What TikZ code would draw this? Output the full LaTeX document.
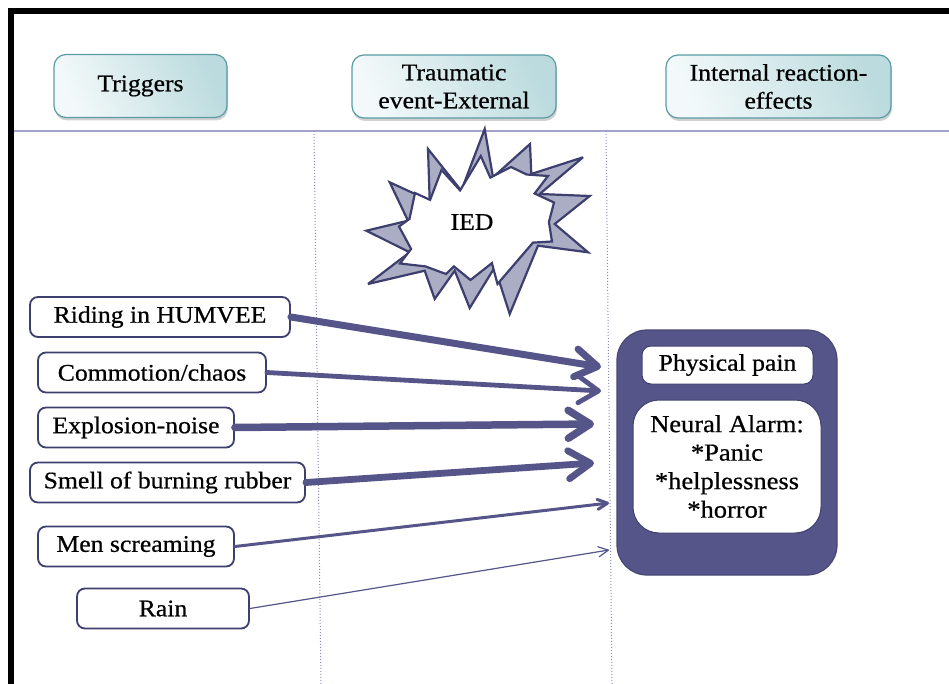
\documentclass[tikz,border=0pt]{standalone}
\usepackage{fontspec}
\setmainfont{Liberation Serif}[FakeStretch=1.08,FakeBold=0.6]
\usetikzlibrary{arrows.meta,shadows}

\definecolor{navy}{HTML}{3D3F6E}
\definecolor{plum}{HTML}{55558A}
\definecolor{hdrlight}{HTML}{F3F9FA}
\definecolor{hdrdark}{HTML}{BCDBDE}
\definecolor{hdredge}{HTML}{5A9CA3}
\definecolor{rulecol}{HTML}{A3A3CC}
\definecolor{guide}{HTML}{8A8AC0}
\definecolor{blastfill}{HTML}{AAADC4}

% outline of the explosion burst (back layer), relative to its centre
\def\blastback{(6.7,-95) -- (15,-46.7) -- (52,-80) -- (53.3,-50) -- (105,-66.7)
  -- (61.7,-30) -- (111.7,-28) -- (76.7,0) -- (110,28.3) -- (60,21.7)
  -- (31.7,90) -- (16.7,43.3) -- (-8.3,84) -- (-23.3,46.7) -- (-43.3,75)
  -- (-53.3,46.7) -- (-110,60) -- (-68.3,28.3) -- (-111.7,6.7) -- (-70,-3.3)
  -- (-88.3,-41.7) -- (-48.3,-23.3) -- (-50,-75) -- (-16.7,-33.3)}
% white front layer: same valleys, shorter spikes
\def\blastfront{(4.8,-66) -- (14.3,-44.4) -- (35,-55) -- (50.6,-47.5) -- (72,-46)
  -- (58.6,-28.5) -- (78,-19.5) -- (72.9,0) -- (76,19.5) -- (57,20.6)
  -- (21.5,62) -- (15.9,41.1) -- (-5.5,58) -- (-22.1,44.4) -- (-30,52)
  -- (-50.6,44.4) -- (-76,41.5) -- (-64.9,26.9) -- (-77,4.5) -- (-66.5,-3.1)
  -- (-61,-29) -- (-45.9,-22.1) -- (-34.5,-52) -- (-15.9,-31.6)}

\begin{document}
\begin{tikzpicture}[x=1pt,y=-1pt,
  txt/.style={font=\fontsize{23.8}{28}\selectfont},
  header/.style={txt, draw=hdredge, line width=1.2pt, rounded corners=12pt,
    left color=hdrlight, right color=hdrdark, shading angle=115,
    minimum height=63pt, inner sep=0pt, align=center,
    drop shadow={shadow xshift=1pt, shadow yshift=-3pt, opacity=0.3, fill=black!60}},
  trigger/.style={txt, draw=navy, line width=1.8pt, fill=white,
    rounded corners=8pt, minimum height=40pt, inner sep=0pt},
  inbox/.style={txt, draw=navy, line width=1pt, fill=white, inner sep=0pt, align=center},
  heavy/.style={draw=plum, line cap=round,
    -{Straight Barb[length=22pt,width=28pt,round]}},
  light/.style={draw=plum, line cap=round,
    -{Straight Barb[length=10pt,width=10pt,round]}},
  burst/.style={draw=navy, line width=2.2pt, line join=miter, miter limit=4}
]
\useasboundingbox (0,0) rectangle (949,684);

% frame, rule and column guides
\fill[black] (8,8) rectangle (949,14);
\fill[black] (8,8) rectangle (14,684);
\draw[rulecol, line width=1.3pt] (14,131) -- (949,131);
\draw[guide, dotted, line width=1pt] (314,131) -- (321,684);
\draw[guide, dotted, line width=1pt] (606,131) -- (612,684);

% column headers
\node[header, minimum width=173pt] (hTrig) at (140.5,86) {Triggers};
\node[header, minimum width=204pt] (hEvent) at (454,86.5) {Traumatic\\event-External};
\node[header, minimum width=225pt] (hInt) at (778.5,86.5) {Internal reaction-\\effects};

% explosion burst: shaded back layer and white front layer
\begin{scope}[shift={(478,224)}]
  \draw[burst, fill=blastfill] \blastback -- cycle;
\end{scope}
\begin{scope}[shift={(476,222)}]
  \draw[burst, fill=white] \blastfront -- cycle;
\end{scope}
\node[txt] (ied) at (472,222) {IED};

% triggers
\node[trigger, minimum width=260pt] (ride) at (160,317) {Riding in HUMVEE};
\node[trigger, minimum width=228pt] (chaos) at (152,372.5) {Commotion/chaos};
\node[trigger, minimum width=196pt] (blast) at (136,427.5) {Explosion-noise};
\node[trigger, minimum width=275pt] (smell) at (167.5,482.5) {Smell of burning rubber};
\node[trigger, minimum width=196pt] (scream) at (136,546.5) {Men screaming};
\node[trigger, minimum width=172pt] (rain) at (163,608.5) {Rain};

% internal effects
\node[draw=plum!85!black, line width=1.2pt, fill=plum, rounded corners=30pt,
  minimum width=220pt, minimum height=245pt] (effects) at (727,452.5) {};
\node[inbox, rounded corners=9pt, minimum width=171pt, minimum height=38pt]
  (pain) at (727.5,365) {Physical pain};
\node[inbox, rounded corners=26pt, minimum width=188pt, minimum height=133pt,
  font=\fontsize{24.5}{28.5}\selectfont]
  (alarm) at (727,466.5) {Neural Alarm:\\*Panic\\*helplessness\\*horror};

% arrow tips at the column guide
\coordinate (tip1) at (601,367);
\coordinate (tip2) at (601,391);
\coordinate (tip3) at (594,424);
\coordinate (tip4) at (594,463);
\coordinate (tip5) at (609,503);
\coordinate (tip6) at (609,550);

\draw[heavy, line width=7pt] (ride.east) -- (tip1);
\draw[heavy, line width=4.8pt, -{Straight Barb[length=20pt,width=26pt,round]}] (chaos.east) -- (tip2);
\draw[heavy, line width=7.5pt] (blast.east) -- (tip3);
\draw[heavy, line width=6.8pt] (smell.east) -- (tip4);
\draw[light, line width=3pt] (scream.east) -- (tip5);
\draw[light, line width=1.2pt] (rain.east) -- (tip6);
\end{tikzpicture}
\end{document}
